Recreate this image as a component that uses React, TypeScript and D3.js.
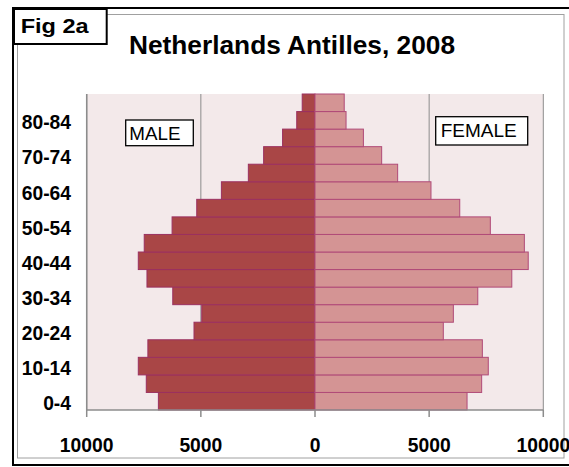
import React from "react";
import * as d3 from "d3";

const ageGroups = ["0-4","5-9","10-14","15-19","20-24","25-29","30-34","35-39","40-44","45-49","50-54","55-59","60-64","65-69","70-74","75-79","80-84","85+"];
const maleValues = [6860,7390,7740,7320,5300,4960,6230,7360,7740,7480,6260,5180,4100,2920,2250,1420,800,560];
const femaleValues = [6660,7300,7590,7330,5620,6060,7130,8620,9340,9170,7680,6340,5080,3620,2920,2120,1360,1280];
const xTicks = [-10000,-5000,0,5000,10000];
const shownAgeLabels = ["0-4","10-14","20-24","30-34","40-44","50-54","60-64","70-74","80-84"];

export default function App() {
  const W = 569, H = 467;
  const left = 86.7, right = 543.3, top = 94, bottom = 410;
  const x = d3.scaleLinear().domain([-10000, 10000]).range([left, right]);
  const y = d3.scaleBand<string>().domain([...ageGroups].reverse()).range([top, bottom]).padding(0);
  const bw = y.bandwidth();
  const font = "'Liberation Sans', Arial, sans-serif";
  const grid = "#8c8c8c";

  return (
    <svg width={W} height={H} style={{ position: "absolute", left: 0, top: 0 }} fontFamily={font}>
      <rect x={0} y={0} width={W} height={H} fill="#fff" />
      {/* outer black frame */}
      <rect x={13} y={8} width={W + 10} height={457} fill="#fff" stroke="#000" strokeWidth={2} />
      {/* inner gray frame */}
      <rect x={17.5} y={14.5} width={546.5} height={443.5} fill="#fff" stroke="#a0a0a0" strokeWidth={1} />

      {/* plot area */}
      <rect x={left} y={top} width={right - left} height={bottom - top} fill="#F3E9EA" />
      {xTicks.map((t) => t !== 0 && (
        <line key={"g" + t} x1={x(t)} x2={x(t)} y1={top} y2={bottom} stroke={grid} strokeWidth={1} />
      ))}

      {/* male bars */}
      {ageGroups.map((a, i) => (
        <rect key={"m" + a} x={x(-maleValues[i])} y={y(a)!} width={x(0) - x(-maleValues[i])} height={bw}
          fill="#A94646" stroke="#9B3060" strokeWidth={1} />
      ))}
      {/* female bars */}
      {ageGroups.map((a, i) => (
        <rect key={"f" + a} x={x(0)} y={y(a)!} width={x(femaleValues[i]) - x(0)} height={bw}
          fill="#D49494" stroke="#B04A78" strokeWidth={1} />
      ))}

      {/* axis */}
      <line x1={left} x2={right} y1={bottom} y2={bottom} stroke={grid} strokeWidth={1.5} />
      <line x1={left} x2={left} y1={top} y2={bottom} stroke={grid} strokeWidth={1.5} />
      {xTicks.map((t) => (
        <line key={"t" + t} x1={x(t)} x2={x(t)} y1={bottom} y2={bottom + 7} stroke={grid} strokeWidth={1.5} />
      ))}
      {xTicks.map((t) => (
        <text key={"l" + t} transform={`translate(${x(t)},451.5) scale(0.92,1)`} textAnchor="middle" fontSize={21} fontWeight="bold" fill="#000">
          {Math.abs(t)}
        </text>
      ))}
      {shownAgeLabels.map((a) => (
        <text key={"y" + a} transform={`translate(71,${y(a)! + bw / 2 + 9}) scale(0.94,1)`} textAnchor="end" fontSize={20.5} fontWeight="bold" fill="#000">
          {a}
        </text>
      ))}

      {/* MALE / FEMALE boxes */}
      <rect x={125.7} y={120} width={67.6} height={25.7} fill="#fff" stroke="#000" strokeWidth={1.3} />
      <text x={129.3} y={140} fontSize={18.8} fill="#000">MALE</text>
      <rect x={435.7} y={116.7} width={92} height={28.3} fill="#fff" stroke="#000" strokeWidth={1.3} />
      <text x={440.7} y={137.3} fontSize={19} fill="#000">FEMALE</text>

      {/* Fig 2a */}
      <rect x={14} y={9} width={92.7} height={35} fill="#fff" stroke="#000" strokeWidth={2} />
      <text x={20.7} y={33.3} fontSize={21} fontWeight="bold" fill="#000" textLength={68} lengthAdjust="spacingAndGlyphs">Fig 2a</text>

      {/* title */}
      <text x={129} y={53.5} fontSize={25} fontWeight="bold" fill="#000" textLength={326} lengthAdjust="spacingAndGlyphs">
        Netherlands Antilles, 2008
      </text>
    </svg>
  );
}
